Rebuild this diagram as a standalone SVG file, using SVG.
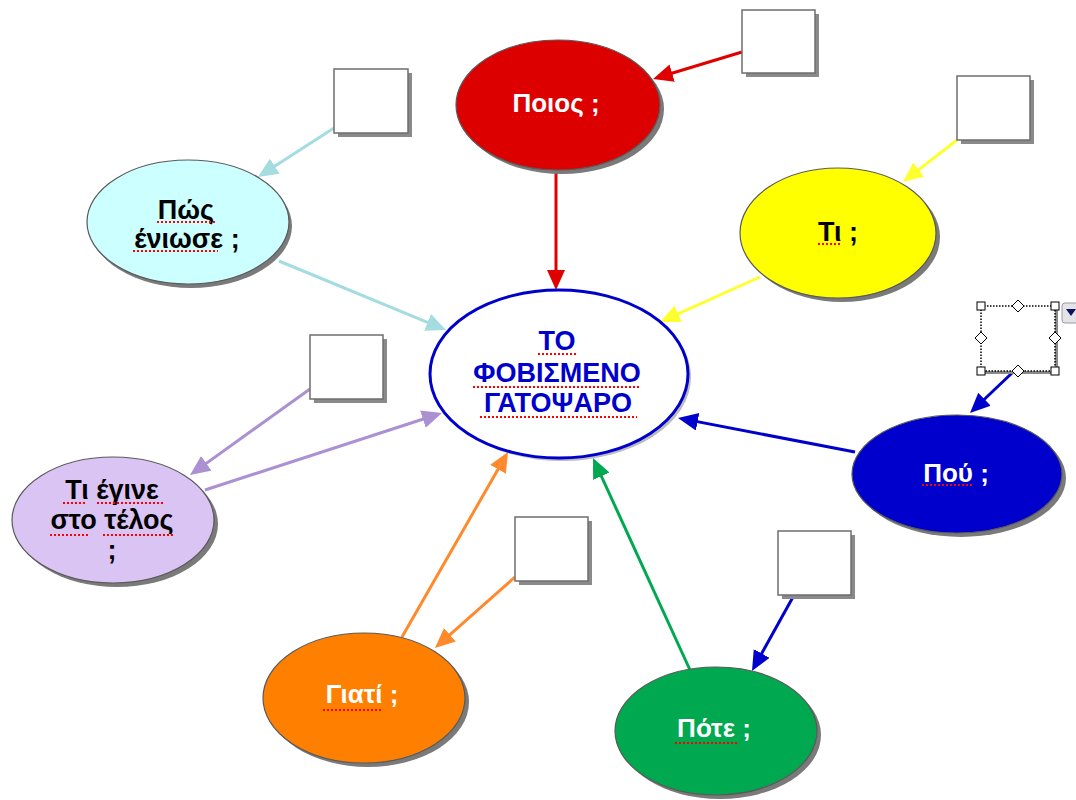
<svg xmlns="http://www.w3.org/2000/svg" width="1076" height="800" viewBox="0 0 1076 800">
<defs>
<style>
.lbl{font-family:"Liberation Sans",Arial,sans-serif;font-weight:bold;text-anchor:middle;}
.w{fill:#ffffff;font-size:26px;}
.k{fill:#000000;font-size:27px;}
.c{fill:#0000cc;font-size:27px;}
.sh{fill:#7a7a7a;}
.el{stroke:#5a5a5a;stroke-width:1.2;}
.box{fill:#ffffff;stroke:#6e6e6e;stroke-width:1.5;}
.bsh{fill:#8a8a8a;}
.sp{stroke:#ff0000;stroke-width:2;stroke-dasharray:2 2;fill:none;}
.cn{fill:none;stroke-width:3;}
.hd{fill:#ffffff;stroke:#000000;stroke-width:1;}
</style>
<marker id="aR" markerUnits="userSpaceOnUse" markerWidth="22" markerHeight="20" refX="15" refY="9" orient="auto"><path d="M0,0 L20,9 L0,18 z" fill="#e00000"/></marker>
<marker id="aC" markerUnits="userSpaceOnUse" markerWidth="22" markerHeight="20" refX="15" refY="9" orient="auto"><path d="M0,0 L20,9 L0,18 z" fill="#a4dce0"/></marker>
<marker id="aY" markerUnits="userSpaceOnUse" markerWidth="22" markerHeight="20" refX="15" refY="9" orient="auto"><path d="M0,0 L20,9 L0,18 z" fill="#ffff30"/></marker>
<marker id="aB" markerUnits="userSpaceOnUse" markerWidth="22" markerHeight="20" refX="15" refY="9" orient="auto"><path d="M0,0 L20,9 L0,18 z" fill="#0000cc"/></marker>
<marker id="aP" markerUnits="userSpaceOnUse" markerWidth="22" markerHeight="20" refX="15" refY="9" orient="auto"><path d="M0,0 L20,9 L0,18 z" fill="#ab90d2"/></marker>
<marker id="aO" markerUnits="userSpaceOnUse" markerWidth="22" markerHeight="20" refX="15" refY="9" orient="auto"><path d="M0,0 L20,9 L0,18 z" fill="#ff8a2c"/></marker>
<marker id="aG" markerUnits="userSpaceOnUse" markerWidth="22" markerHeight="20" refX="15" refY="9" orient="auto"><path d="M0,0 L20,9 L0,18 z" fill="#00a84f"/></marker>
</defs>
<rect x="0" y="0" width="1076" height="800" fill="#ffffff"/>

<g id="connectors">
<line class="cn" stroke="#e00000" x1="742" y1="52" x2="657.8" y2="77.5" marker-end="url(#aR)"/>
<line class="cn" stroke="#e00000" x1="556" y1="170" x2="556" y2="285" marker-end="url(#aR)"/>
<line class="cn" stroke="#a4dce0" x1="334" y1="128" x2="262.2" y2="174.3" marker-end="url(#aC)"/>
<line class="cn" stroke="#a4dce0" x1="279" y1="261" x2="441.4" y2="328.1" marker-end="url(#aC)"/>
<line class="cn" stroke="#ffff30" x1="957" y1="140" x2="906.9" y2="178.9" marker-end="url(#aY)"/>
<line class="cn" stroke="#ffff30" x1="760" y1="277" x2="664.6" y2="319.9" marker-end="url(#aY)"/>
<line class="cn" stroke="#0000cc" x1="1012" y1="373" x2="973.6" y2="409.5" marker-end="url(#aB)"/>
<line class="cn" stroke="#0000cc" x1="855" y1="452" x2="682.9" y2="418.9" marker-end="url(#aB)"/>
<line class="cn" stroke="#ab90d2" x1="310" y1="389" x2="194.1" y2="472.1" marker-end="url(#aP)"/>
<line class="cn" stroke="#ab90d2" x1="205" y1="490" x2="437.2" y2="414.5" marker-end="url(#aP)"/>
<line class="cn" stroke="#ff8a2c" x1="515" y1="577" x2="438.7" y2="644.7" marker-end="url(#aO)"/>
<line class="cn" stroke="#ff8a2c" x1="402" y1="637" x2="505.5" y2="456.3" marker-end="url(#aO)"/>
<line class="cn" stroke="#0000cc" x1="793" y1="597" x2="754.4" y2="666.6" marker-end="url(#aB)"/>
<line class="cn" stroke="#00a84f" x1="690" y1="670" x2="595.1" y2="462.5" marker-end="url(#aG)"/>
</g>

<g id="node-center">
<ellipse class="sh" cx="562" cy="377" rx="129" ry="84" opacity="0.5"/>
<ellipse cx="559" cy="374" rx="129" ry="84" fill="#ffffff" stroke="#0000cc" stroke-width="3"/>
<text class="lbl c" x="557" y="350">ΤΟ</text>
<text class="lbl c" x="557" y="382">ΦΟΒΙΣΜΕΝΟ</text>
<text class="lbl c" x="558" y="412">ΓΑΤΟΨΑΡΟ</text>
<line class="sp" x1="538" y1="354" x2="577" y2="354"/>
<line class="sp" x1="473" y1="387" x2="640" y2="387"/>
<line class="sp" x1="480" y1="417" x2="637" y2="417"/>
</g>

<g id="node-poios">
<ellipse class="sh" cx="562" cy="109" rx="102" ry="65"/>
<ellipse class="el" cx="558" cy="105" rx="102" ry="65" fill="#dd0000"/>
<text class="lbl w" x="556" y="112">Ποιος ;</text>
<line class="sp" x1="512" y1="117" x2="577" y2="117" opacity="0.6"/>
</g>

<g id="node-pos">
<ellipse class="sh" cx="191" cy="226" rx="101" ry="62"/>
<ellipse class="el" cx="188" cy="222" rx="101" ry="62" fill="#ccffff"/>
<text class="lbl k" x="186" y="219">Πώς</text>
<text class="lbl k" x="187" y="248">ένιωσε ;</text>
<line class="sp" x1="157" y1="222" x2="215" y2="222"/>
<line class="sp" x1="133" y1="251" x2="218" y2="251"/>
</g>

<g id="node-ti">
<ellipse class="sh" cx="842" cy="237" rx="98" ry="65"/>
<ellipse class="el" cx="838" cy="233" rx="98" ry="65" fill="#ffff00"/>
<text class="lbl k" x="838" y="241">Τι ;</text>
<line class="sp" x1="818" y1="244" x2="840" y2="244"/>
</g>

<g id="node-pou">
<ellipse class="sh" cx="961" cy="478" rx="105" ry="59"/>
<ellipse class="el" cx="957" cy="474" rx="105" ry="59" fill="#0000cc"/>
<text class="lbl w" x="956" y="482">Πού ;</text>
<line class="sp" x1="922" y1="485" x2="973" y2="485"/>
</g>

<g id="node-ti-egine">
<ellipse class="sh" cx="117" cy="524" rx="101" ry="63"/>
<ellipse class="el" cx="113" cy="520" rx="101" ry="63" fill="#dac4f4"/>
<text class="lbl k" x="112" y="499">Τι έγινε</text>
<text class="lbl k" x="112" y="529">στο τέλος</text>
<text class="lbl k" x="112" y="559">;</text>
<line class="sp" x1="63" y1="503" x2="85" y2="503"/>
<line class="sp" x1="97" y1="503" x2="163" y2="503"/>
<line class="sp" x1="50" y1="535" x2="88" y2="535"/>
<line class="sp" x1="103" y1="535" x2="175" y2="535"/>
</g>

<g id="node-giati">
<ellipse class="sh" cx="368" cy="702" rx="101" ry="65"/>
<ellipse class="el" cx="364" cy="698" rx="101" ry="65" fill="#ff7f00"/>
<text class="lbl w" x="362" y="703">Γιατί ;</text>
<line class="sp" x1="323" y1="710" x2="383" y2="710"/>
</g>

<g id="node-pote">
<ellipse class="sh" cx="720" cy="735" rx="101" ry="64"/>
<ellipse class="el" cx="716" cy="731" rx="101" ry="64" fill="#00a84f"/>
<text class="lbl w" x="714" y="737">Πότε ;</text>
<line class="sp" x1="675" y1="743" x2="737" y2="743"/>
</g>

<g id="box-poios">
<rect class="bsh" x="746" y="14" width="73" height="63"/>
<rect class="box" x="742" y="10" width="73" height="63"/>
</g>
<g id="box-pos">
<rect class="bsh" x="338" y="73" width="74" height="64"/>
<rect class="box" x="334" y="69" width="74" height="64"/>
</g>
<g id="box-ti">
<rect class="bsh" x="961" y="80" width="73" height="64"/>
<rect class="box" x="957" y="76" width="73" height="64"/>
</g>
<g id="box-ti-egine">
<rect class="bsh" x="314" y="339" width="73" height="64"/>
<rect class="box" x="310" y="335" width="73" height="64"/>
</g>
<g id="box-giati">
<rect class="bsh" x="519" y="521" width="73" height="64"/>
<rect class="box" x="515" y="517" width="73" height="64"/>
</g>
<g id="box-pote">
<rect class="bsh" x="782" y="535" width="73" height="64"/>
<rect class="box" x="778" y="531" width="73" height="64"/>
</g>
<g id="box-pou">
<rect class="bsh" x="984" y="309" width="74" height="65"/>
<rect x="981" y="306" width="74" height="65" fill="#ffffff" stroke="#000000" stroke-width="1.5" stroke-dasharray="1.5 1.5"/>
<rect class="hd" x="977" y="302" width="8" height="8"/>
<rect class="hd" x="1051" y="302" width="8" height="8"/>
<rect class="hd" x="977" y="367" width="8" height="8"/>
<rect class="hd" x="1051" y="367" width="8" height="8"/>
<path class="hd" d="M1018,300 L1024,306 L1018,312 L1012,306 z"/>
<path class="hd" d="M1018,365 L1024,371 L1018,377 L1012,371 z"/>
<path class="hd" d="M981,332 L987,338 L981,344 L975,338 z"/>
<path class="hd" d="M1055,332 L1061,338 L1055,344 L1049,338 z"/>
<rect x="1062" y="303" width="20" height="20" rx="3" fill="#e4e4e8" stroke="#9a9aa4" stroke-width="1"/>
<path d="M1066,309 L1076,309 L1071,316 z" fill="#101060"/>
</g>
</svg>
